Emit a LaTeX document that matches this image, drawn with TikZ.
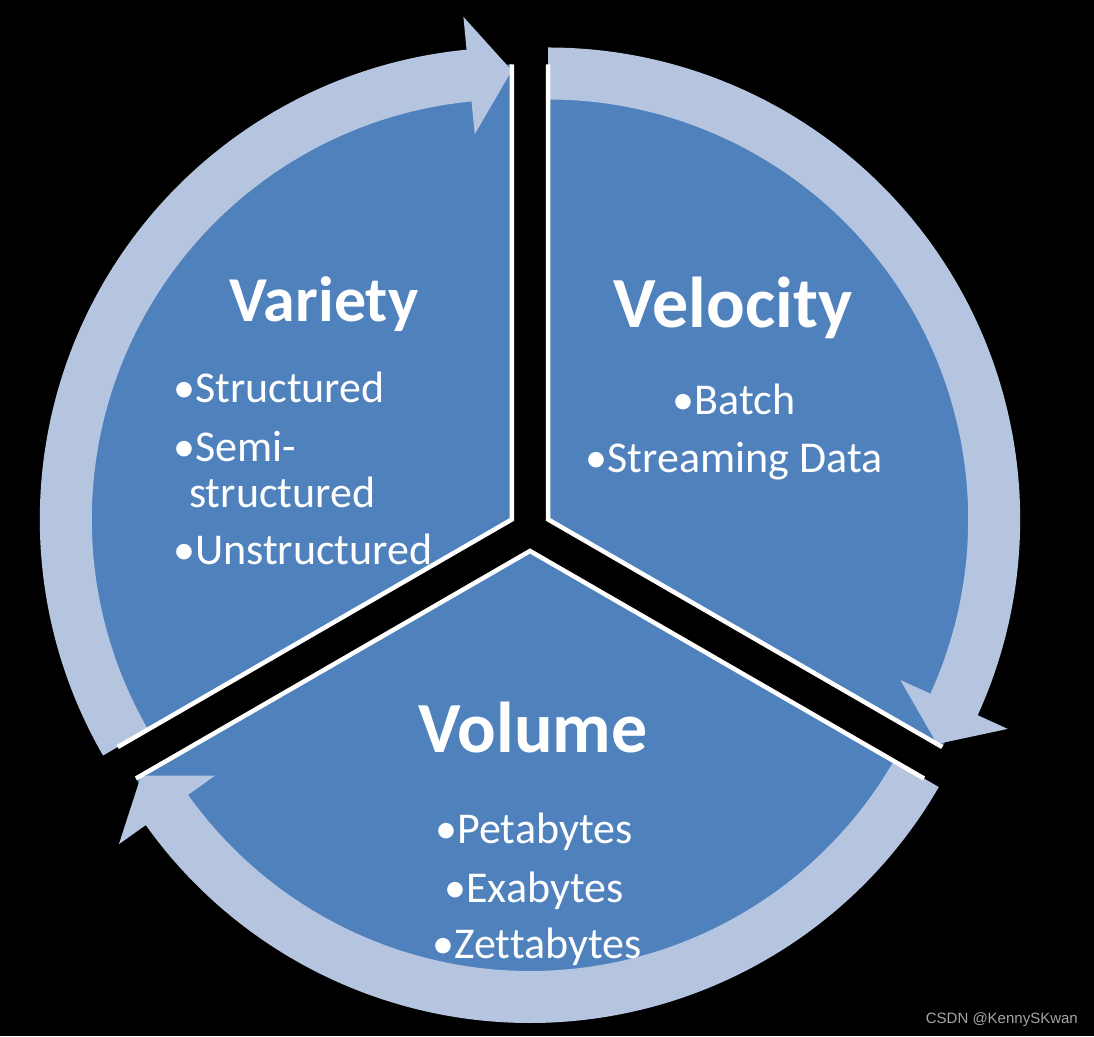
\documentclass[tikz,border=0pt]{standalone}
\usepackage{fontspec}
\setmainfont{Carlito}[Ligatures=NoCommon]
\newfontfamily\wmfont{Liberation Sans}
\definecolor{segblue}{RGB}{79,129,189}
\definecolor{bandblue}{RGB}{181,196,223}
\definecolor{wmgray}{RGB}{165,165,165}
\tikzset{
  segment/.style={fill=segblue},
  band/.style={fill=bandblue},
  segedge/.style={draw=white, line width=4.5, line join=miter},
  titletext/.style={text=white, font=\bfseries\fontsize{72}{72}\selectfont, inner sep=0, anchor=base},
  itemtext/.style={text=white, font=\fontsize{44}{44}\selectfont, inner sep=0, anchor=base},
}
\newcommand\cycleseg[3]{%
  \pgfmathsetmacro\hb{#3+5.5}%
  \begin{scope}[shift={(#1)}]
    \fill[segment] (0,0) -- (#2:455) arc[start angle=#2, end angle=#3, radius=455] -- cycle;
    \fill[band] (#2:472) arc[start angle=#2, end angle=\hb, radius=472]
      -- (\hb:505) -- (#3:449) -- (\hb:387) -- (\hb:420)
      arc[start angle=\hb, end angle=#2, radius=420] -- cycle;
    \draw[segedge] (#2:455) -- (0,0) -- (#3:455);
  \end{scope}}
\begin{document}
\begin{tikzpicture}[x=1pt,y=1pt]
  \useasboundingbox (0,0) rectangle (1094,1036);
  \fill[black] (0,0) rectangle (1094,1036);
  \coordinate (cvariety) at (511.8,516.5);
  \coordinate (cvelocity) at (548.2,516.5);
  \coordinate (cvolume) at (530,485);
  \cycleseg{cvariety}{210}{90}
  \cycleseg{cvelocity}{90}{-30}
  \cycleseg{cvolume}{330}{210}
  % Variety
  \node[titletext, font=\bfseries\fontsize{64}{64}\selectfont] (tvariety) at (324,714) {Variety};
  \node[itemtext, anchor=base west] (v1) at (173,633) {•Structured};
  \node[itemtext, anchor=base west] (v2) at (173,574) {•Semi-};
  \node[itemtext, anchor=base west] (v2b) at (189,528) {structured};
  \node[itemtext, anchor=base west] (v3) at (173,471) {•Unstructured};
  % Velocity
  \node[titletext] (tvelocity) at (733,708) {Velocity};
  \node[itemtext] (s1) at (734,621) {•Batch};
  \node[itemtext] (s2) at (734,563) {•Streaming Data};
  % Volume
  \node[titletext] (tvolume) at (533,283) {Volume};
  \node[itemtext] (m1) at (534,193) {•Petabytes};
  \node[itemtext] (m2) at (534,134) {•Exabytes};
  \node[itemtext] (m3) at (537,78) {•Zettabytes};
  % watermark
  \node[text=wmgray, font=\wmfont\fontsize{15}{15}\selectfont, inner sep=0, anchor=base east] (wm) at (1078,13) {CSDN @KennySKwan};
\end{tikzpicture}
\end{document}
